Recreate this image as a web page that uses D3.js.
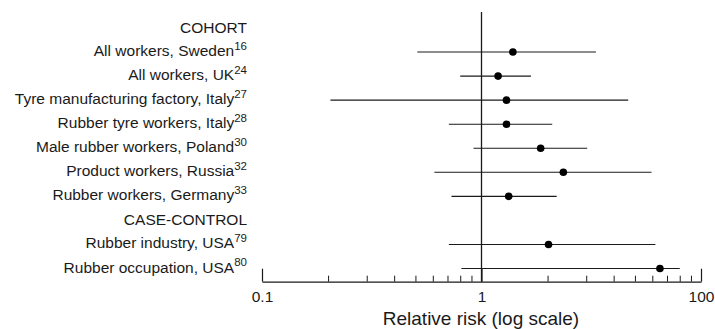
<!DOCTYPE html>
<html>
<head>
<meta charset="utf-8">
<script src="https://cdn.jsdelivr.net/npm/d3@7"></script>
<style>
  html, body { margin: 0; padding: 0; background: #fff; }
  svg { display: block; font-family: "Liberation Sans", Arial, Helvetica, sans-serif; }
</style>
</head>
<body>
<svg id="chart" width="715" height="329"></svg>
<script>
// ---- data ----
const labels = ["COHORT", "All workers, Sweden", "All workers, UK", "Tyre manufacturing factory, Italy",
  "Rubber tyre workers, Italy", "Male rubber workers, Poland", "Product workers, Russia",
  "Rubber workers, Germany", "CASE-CONTROL", "Rubber industry, USA", "Rubber occupation, USA"];
const refs = ["", "16", "24", "27", "28", "30", "32", "33", "", "79", "80"];
const rr   = [null, 1.39, 1.19, 1.30, 1.30, 1.86, 2.36, 1.33, null, 2.02, 6.5];
const lo   = [null, 0.51, 0.80, 0.205, 0.71, 0.92, 0.61, 0.73, null, 0.71, 0.81];
const hi   = [null, 3.32, 1.68, 4.66, 2.10, 3.03, 5.95, 2.20, null, 6.2, 8.0];
const majorTicks = [0.1, 1, 10];
const majorTickLabels = ["0.1", "1", "100"];
const minorTicks = [0.2, 0.3, 0.4, 0.5, 0.6, 0.7, 0.8, 0.9, 2, 3, 4, 5, 6, 7, 8, 9];
const axisTitle = "Relative risk (log scale)";

// ---- layout ----
const svg = d3.select("#chart");
const x = d3.scaleLog().domain([0.1, 10]).range([262, 701]);
const y = d3.scalePoint().domain(d3.range(labels.length)).range([28, 268.5]);
const axisY = 281.7;
const ink = "#1a1a1a";

const rows = labels.map((l, i) => ({ i, label: l, ref: refs[i], rr: rr[i], lo: lo[i], hi: hi[i] }));

// reference line at RR = 1
svg.append("line")
  .attr("x1", x(1)).attr("x2", x(1))
  .attr("y1", 12).attr("y2", axisY)
  .attr("stroke", ink).attr("stroke-width", 1.3);

// labels
const lab = svg.append("g").selectAll("text").data(rows).join("text")
  .attr("x", 247)
  .attr("y", d => y(d.i) + (d.ref ? 4 : 5))
  .attr("text-anchor", "end")
  .attr("font-size", 15.5)
  .attr("fill", ink);
lab.append("tspan").text(d => d.label);
lab.filter(d => d.ref).append("tspan")
  .attr("font-size", 11.5).attr("dy", -6.5).text(d => d.ref);

// CI lines and points
const data = rows.filter(d => d.rr != null);
svg.append("g").selectAll("line").data(data).join("line")
  .attr("x1", d => x(d.lo)).attr("x2", d => x(d.hi))
  .attr("y1", d => y(d.i)).attr("y2", d => y(d.i))
  .attr("stroke", ink).attr("stroke-width", 1.1);
svg.append("g").selectAll("circle").data(data).join("circle")
  .attr("cx", d => x(d.rr)).attr("cy", d => y(d.i)).attr("r", 3.8)
  .attr("fill", "#000");

// axis: minor ticks
const minorAxis = d3.axisBottom(x).tickValues(minorTicks).tickSize(-6).tickSizeOuter(0).tickFormat("");
const gMinor = svg.append("g").attr("transform", `translate(0,${axisY})`).call(minorAxis);
gMinor.select(".domain").attr("stroke", ink).attr("stroke-width", 1.2);
gMinor.selectAll(".tick line").attr("stroke", ink).attr("stroke-width", 1);

// axis: major ticks with labels
const majorAxis = d3.axisBottom(x).tickValues(majorTicks).tickSize(-13).tickSizeOuter(0)
  .tickPadding(9.5).tickFormat((d, i) => majorTickLabels[i]);
const gMajor = svg.append("g").attr("transform", `translate(0,${axisY})`).call(majorAxis);
gMajor.select(".domain").remove();
gMajor.selectAll(".tick line").attr("stroke", ink).attr("stroke-width", 1.2);
gMajor.selectAll(".tick text").attr("font-size", 15.5).attr("fill", ink)
  .attr("font-family", "'Liberation Sans', Arial, sans-serif");

// axis title
svg.append("text")
  .attr("x", 481).attr("y", 325)
  .attr("text-anchor", "middle")
  .attr("font-size", 19)
  .attr("fill", ink)
  .text(axisTitle);
</script>
</body>
</html>
